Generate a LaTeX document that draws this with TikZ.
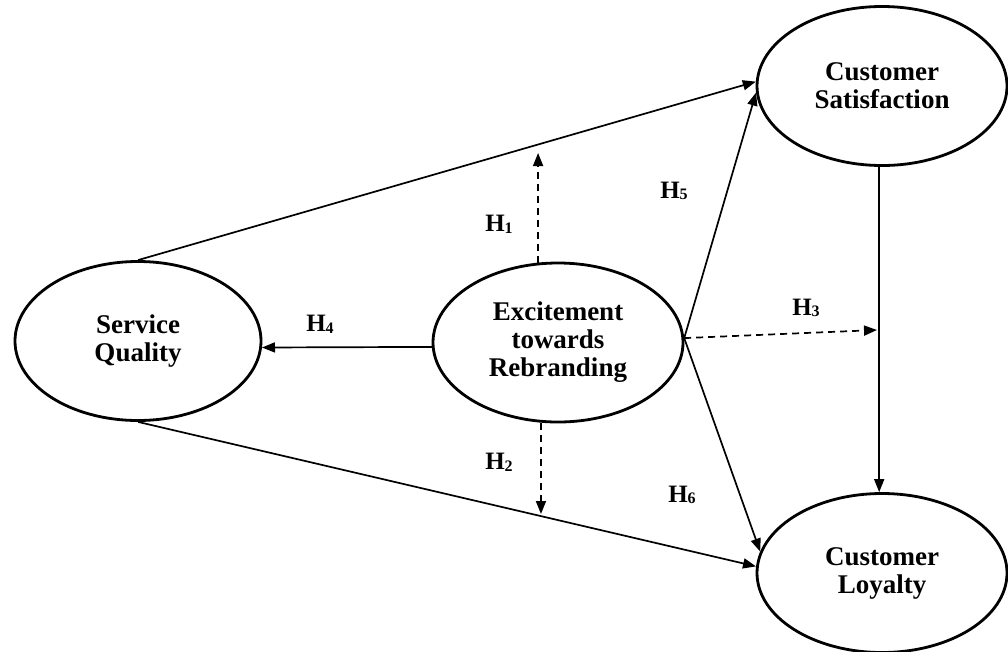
\documentclass[tikz,border=0pt]{standalone}
\usepackage{fontspec}
\setmainfont{Liberation Serif}
\usetikzlibrary{shapes.geometric,arrows.meta}
\begin{document}
\begin{tikzpicture}[x=1pt,y=-1pt,
  construct/.style={ellipse,draw,line width=2.8pt,minimum width=250pt,minimum height=159pt,inner sep=0pt,
    align=center,font=\fontsize{27}{28}\selectfont\bfseries},
  link/.style={line width=1.7pt,-{Triangle[length=13pt,width=10pt]}},
  dlink/.style={link,dash pattern=on 7pt off 5pt},
  hlab/.style={font=\fontsize{25}{26}\selectfont\bfseries,inner sep=0pt}]
\useasboundingbox (0,0) rectangle (1008,651);
\newcommand{\hyp}[1]{H\raisebox{-0.15ex}{\fontsize{16}{17}\selectfont #1}}
\node[construct] (cs) at (882,86) {Customer\\Satisfaction};
\node[construct,minimum width=246pt] (sq) at (138,341) {Service\\Quality};
\node[construct] (ex) at (558,342.5) {Excitement\\towards\\Rebranding};
\node[construct] (cl) at (882,573) {Customer\\Loyalty};
\coordinate (h1tip) at (538,153);
\coordinate (h2tip) at (541,514);
\coordinate (h3tip) at (877,330);
\coordinate (exr) at (ex.2);
\draw[link] (sq.north) -- (cs.178);
\draw[link] (sq.south) -- (cl.177);
\draw[link] (ex.182) -- (sq.357);
\draw[link] (exr) -- (cs.183);
\draw[link] (exr) -- (cl.170);
\draw[link] (cs.268) -- (cl.92);
\draw[dlink] (ex.104) -- (ex.104 |- h1tip);
\draw[dlink] (ex.258) -- (ex.258 |- h2tip);
\draw[dlink] (exr) -- (h3tip);
\node[hlab] (l1) at (499,224) {\hyp{1}};
\node[hlab] (l2) at (499,462) {\hyp{2}};
\node[hlab] (l3) at (806,308) {\hyp{3}};
\node[hlab] (l4) at (320,324) {\hyp{4}};
\node[hlab] (l5) at (674,191) {\hyp{5}};
\node[hlab] (l6) at (682,495) {\hyp{6}};
\end{tikzpicture}
\end{document}
